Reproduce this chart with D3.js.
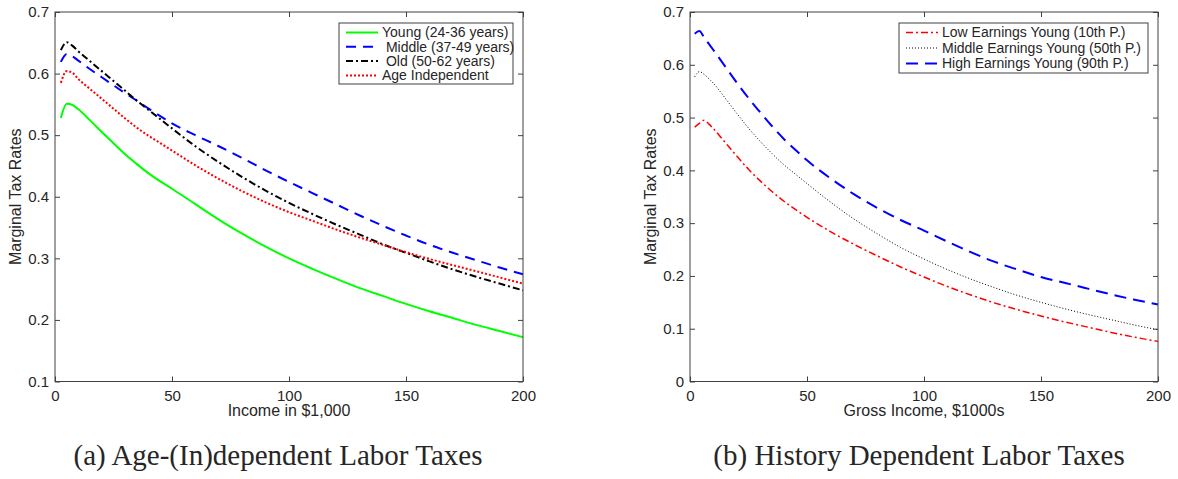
<!DOCTYPE html>
<html>
<head>
<meta charset="utf-8">
<script src="https://cdn.jsdelivr.net/npm/d3@7"></script>
<style>
  body { margin: 0; background: #fff; }
  svg text { font-family: "Liberation Sans", Arial, sans-serif; fill: #262626; }
  .caption { font-family: "Liberation Serif", "DejaVu Serif", serif; }
</style>
</head>
<body>
<script>
// panel (a)
const incomeA = [2.5, 5, 7.5, 10, 15, 20, 25, 30, 35, 40, 45, 50, 60, 70, 80, 90, 100, 110, 120, 130, 140, 150, 160, 170, 180, 190, 200];
const young = [0.528, 0.551, 0.549, 0.542, 0.524, 0.505, 0.487, 0.469, 0.453, 0.438, 0.425, 0.413, 0.388, 0.363, 0.34, 0.319, 0.3, 0.283, 0.267, 0.252, 0.239, 0.226, 0.214, 0.203, 0.192, 0.182, 0.172];
const middle = [0.619, 0.632, 0.628, 0.621, 0.607, 0.594, 0.581, 0.568, 0.556, 0.543, 0.531, 0.519, 0.5, 0.482, 0.463, 0.443, 0.424, 0.406, 0.388, 0.37, 0.353, 0.337, 0.322, 0.309, 0.297, 0.285, 0.274];
const old = [0.638, 0.651, 0.645, 0.636, 0.62, 0.604, 0.588, 0.572, 0.556, 0.541, 0.526, 0.511, 0.482, 0.456, 0.432, 0.41, 0.39, 0.372, 0.355, 0.339, 0.323, 0.309, 0.295, 0.282, 0.27, 0.259, 0.248];
const ageIndep = [0.585, 0.604, 0.601, 0.591, 0.575, 0.559, 0.543, 0.527, 0.512, 0.499, 0.487, 0.475, 0.451, 0.429, 0.409, 0.391, 0.375, 0.361, 0.347, 0.334, 0.322, 0.31, 0.299, 0.289, 0.279, 0.269, 0.259];

// panel (b)
const incomeB = [2, 4, 6, 8, 10, 15, 20, 25, 30, 35, 40, 45, 50, 60, 70, 80, 90, 100, 110, 120, 130, 140, 150, 160, 170, 180, 190, 200];
const lowEarn = [0.482, 0.489, 0.495, 0.488, 0.479, 0.453, 0.427, 0.402, 0.38, 0.36, 0.342, 0.326, 0.311, 0.284, 0.26, 0.238, 0.217, 0.198, 0.18, 0.164, 0.149, 0.136, 0.124, 0.113, 0.103, 0.093, 0.084, 0.076];
const midEarn = [0.577, 0.587, 0.582, 0.574, 0.565, 0.537, 0.508, 0.48, 0.455, 0.432, 0.411, 0.393, 0.375, 0.34, 0.308, 0.28, 0.254, 0.232, 0.212, 0.194, 0.178, 0.163, 0.15, 0.138, 0.127, 0.117, 0.107, 0.098];
const highEarn = [0.659, 0.664, 0.652, 0.64, 0.628, 0.597, 0.566, 0.537, 0.51, 0.484, 0.46, 0.439, 0.419, 0.385, 0.355, 0.329, 0.306, 0.286, 0.265, 0.245, 0.227, 0.212, 0.198, 0.187, 0.176, 0.165, 0.155, 0.146];

const xTicks = [0, 50, 100, 150, 200];
const yTicksA = [0.1, 0.2, 0.3, 0.4, 0.5, 0.6, 0.7];
const yTicksB = [0, 0.1, 0.2, 0.3, 0.4, 0.5, 0.6, 0.7];

const width = 1178, height = 479;
const svg = d3.select('body').append('svg')
  .attr('width', width)
  .attr('height', height);

const axisColor = '#404040';

function panel(opt) {
  const x = d3.scaleLinear().domain([0, 200]).range([opt.left, opt.left + 468]);
  const y = d3.scaleLinear().domain(opt.yDomain).range([381.5, 12]);
  const g = svg.append('g');

  // lines
  const line = xs => d3.line().x((d, i) => x(xs[i])).y(d => y(d)).curve(d3.curveMonotoneX);
  opt.series.forEach(s => {
    g.append('path')
      .attr('d', line(opt.xs)(s.values))
      .attr('fill', 'none')
      .attr('stroke', s.color)
      .attr('stroke-width', s.width)
      .attr('stroke-dasharray', s.dash);
  });

  // box
  g.append('rect')
    .attr('x', x(0)).attr('y', y.range()[1])
    .attr('width', x(200) - x(0)).attr('height', y.range()[0] - y.range()[1])
    .attr('fill', 'none').attr('stroke', axisColor).attr('stroke-width', 1);

  // ticks inside, all four sides
  const tl = 5;
  const bottom = g.append('g').attr('transform', `translate(0,${y.range()[0]})`)
    .call(d3.axisBottom(x).tickValues(xTicks).tickSize(-tl).tickPadding(9).tickFormat(d3.format('d')));
  const top = g.append('g').attr('transform', `translate(0,${y.range()[1]})`)
    .call(d3.axisTop(x).tickValues(xTicks).tickSize(-tl).tickFormat(''));
  const left = g.append('g').attr('transform', `translate(${x(0)},0)`)
    .call(d3.axisLeft(y).tickValues(opt.yTicks).tickSize(-tl).tickPadding(6).tickFormat(d => d === 0 ? '0' : d3.format('.1f')(d)));
  const right = g.append('g').attr('transform', `translate(${x(200)},0)`)
    .call(d3.axisRight(y).tickValues(opt.yTicks).tickSize(-tl).tickFormat(''));
  [bottom, top, left, right].forEach(a => {
    a.select('.domain').remove();
    a.selectAll('line').attr('stroke', axisColor);
    a.selectAll('text').attr('font-size', 15).attr('fill', '#262626')
      .attr('font-family', '"Liberation Sans", Arial, sans-serif');
  });

  // axis labels
  g.append('text')
    .attr('x', (x(0) + x(200)) / 2).attr('y', 416)
    .attr('text-anchor', 'middle').attr('font-size', 16)
    .text(opt.xLabel);
  g.append('text')
    .attr('transform', `translate(${opt.yLabelX},${(y.range()[0] + y.range()[1]) / 2}) rotate(-90)`)
    .attr('text-anchor', 'middle').attr('font-size', 16)
    .text('Marginal Tax Rates');

  // legend
  const lg = opt.legend;
  g.append('rect')
    .attr('x', lg.x0).attr('y', lg.y0).attr('width', lg.x1 - lg.x0).attr('height', lg.y1 - lg.y0)
    .attr('fill', '#fff').attr('stroke', axisColor).attr('stroke-width', 1);
  opt.series.forEach((s, i) => {
    const yy = lg.row0 + i * lg.step;
    g.append('line')
      .attr('x1', lg.x0 + 7).attr('x2', lg.x0 + 39).attr('y1', yy).attr('y2', yy)
      .attr('stroke', s.color).attr('stroke-width', s.width).attr('stroke-dasharray', s.dash);
    g.append('text')
      .attr('x', lg.x0 + 43).attr('y', yy).attr('dy', '0.35em')
      .attr('font-size', 14).style('white-space', 'pre')
      .text(s.label);
  });

  // caption
  svg.append('text')
    .attr('class', 'caption')
    .attr('x', opt.captionX).attr('y', 465)
    .attr('text-anchor', 'middle').attr('font-size', 29)
    .attr('fill', '#000')
    .text(opt.caption);
}

panel({
  left: 55,
  yDomain: [0.1, 0.7],
  yTicks: yTicksA,
  xs: incomeA,
  xLabel: 'Income in $1,000',
  yLabelX: 21,
  caption: '(a) Age-(In)dependent Labor Taxes',
  captionX: 278,
  legend: { x0: 339, x1: 513, y0: 23, y1: 84, row0: 32.5, step: 14.3 },
  series: [
    { label: 'Young (24-36 years)', values: young, color: '#00ff00', width: 2, dash: null },
    { label: ' Middle (37-49 years)', values: middle, color: '#0000ff', width: 2, dash: '10 7' },
    { label: ' Old (50-62 years)', values: old, color: '#000000', width: 2, dash: '7 3 2 3' },
    { label: 'Age Independent', values: ageIndep, color: '#ff0000', width: 2, dash: '2 2' }
  ]
});

panel({
  left: 690,
  yDomain: [0, 0.7],
  yTicks: yTicksB,
  xs: incomeB,
  xLabel: 'Gross Income, $1000s',
  yLabelX: 656,
  caption: '(b) History Dependent Labor Taxes',
  captionX: 919,
  legend: { x0: 899, x1: 1148, y0: 23, y1: 73, row0: 32.5, step: 15.5 },
  series: [
    { label: 'Low Earnings Young (10th P.)', values: lowEarn, color: '#ff0000', width: 1.5, dash: '7 3 2 3' },
    { label: 'Middle Earnings Young (50th P.)', values: midEarn, color: '#000000', width: 1, dash: '1 2' },
    { label: 'High Earnings Young (90th P.)', values: highEarn, color: '#0000ff', width: 2, dash: '12 7' }
  ]
});
</script>
</body>
</html>
